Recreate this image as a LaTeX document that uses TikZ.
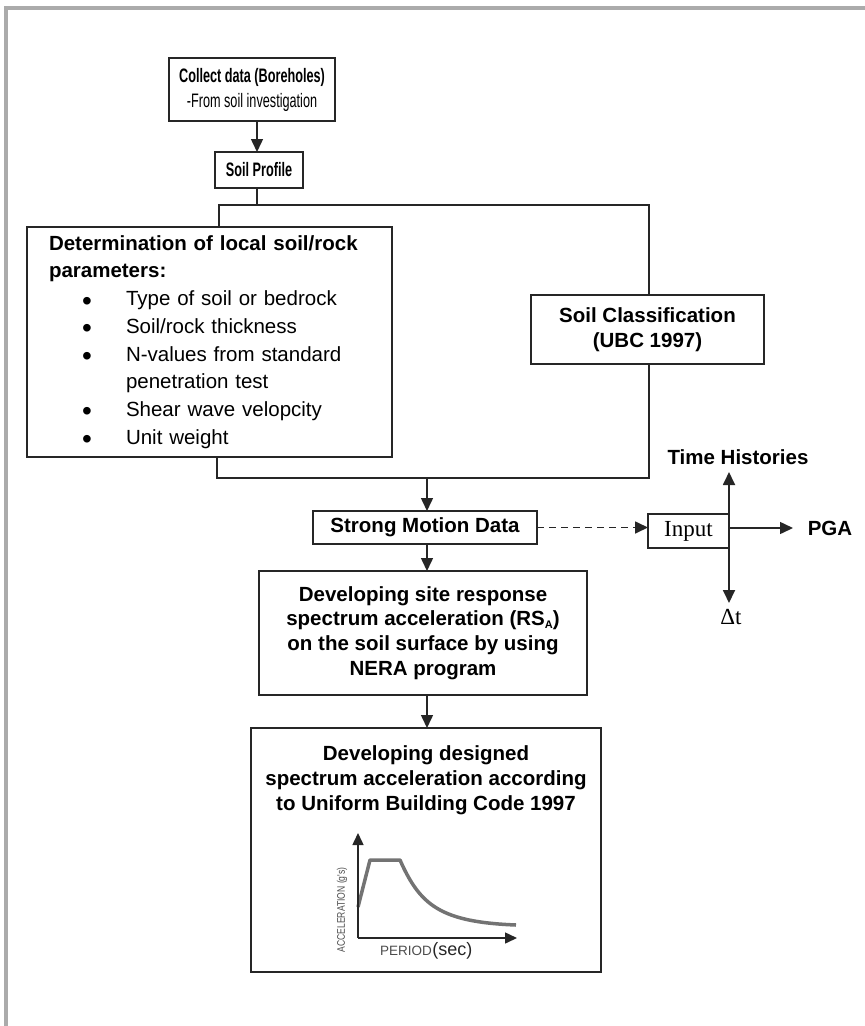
\documentclass[tikz,border=0pt]{standalone}
\usepackage{fontspec}
\setmainfont{Liberation Sans}
\newfontfamily\narrowfont[FakeStretch=0.65]{Liberation Sans}
\newfontfamily\condfont[FakeStretch=0.78]{Liberation Sans}
\newfontfamily\seriffont{Liberation Serif}
\usetikzlibrary{arrows.meta}
\newcommand{\bul}{\raisebox{-4.5pt}{\fontsize{28}{28}\selectfont •}}
\begin{document}
\begin{tikzpicture}[x=1pt,y=-1pt,
  box/.style={draw=black!85,line width=1.5pt,inner sep=0pt,outer sep=0pt},
  conn/.style={draw=black!85,line width=1.5pt},
  arr/.style={conn,-{Triangle[length=13pt,width=12pt]}},
  sarr/.style={conn,-{Triangle[length=12pt,width=11pt]}},
  dasharr/.style={arr,dash pattern=on 7pt off 5pt},
  bigbold/.style={font=\fontsize{20.5}{25}\selectfont\bfseries},
  narrowtxt/.style={font=\narrowfont\fontsize{19.5}{25}\selectfont}
]
\useasboundingbox (0,0) rectangle (865,1026);
% frame
\draw[color=black!33,line width=4pt] (865,8) -- (5.5,8) -- (5.5,1026);

% nodes
\node[box,narrowtxt,minimum width=166pt,minimum height=63pt,align=center] (collect) at (252,89.5)
  {\textbf{Collect data (Boreholes)}\\-From soil investigation};
\node[box,narrowtxt,minimum width=88pt,minimum height=36pt] (sp) at (259,170) {\textbf{Soil Profile}};
\node[box,minimum width=365pt,minimum height=230pt,text width=321pt,align=left,
  font=\fontsize{20.5}{27.7}\selectfont] (det) at (209.5,342)
  {\textbf{Determination of local soil/rock}\\
   \textbf{parameters:}\\
   \hspace*{33pt}\makebox[44pt][l]{\bul}Type of soil or bedrock\\
   \hspace*{33pt}\makebox[44pt][l]{\bul}Soil/rock thickness\\
   \hspace*{33pt}\makebox[44pt][l]{\bul}N-values from standard\\
   \hspace*{77pt}penetration test\\
   \hspace*{33pt}\makebox[44pt][l]{\bul}Shear wave velopcity\\
   \hspace*{33pt}\makebox[44pt][l]{\bul}Unit weight};
\node[box,bigbold,minimum width=233pt,minimum height=69pt,align=center] (cls) at (647.5,329.5)
  {Soil Classification\\(UBC 1997)};
\node[box,bigbold,minimum width=224pt,minimum height=33pt] (smd) at (425,527.5) {Strong Motion Data};
\node[box,minimum width=81pt,minimum height=34pt,font=\seriffont\fontsize{23}{23}\selectfont] (inp) at (688.5,531) {Input};
\node[bigbold,inner sep=0pt] (th) at (738,457) {Time Histories};
\node[bigbold,inner sep=0pt] (pga) at (830,528) {PGA};
\node[inner sep=0pt,font=\seriffont\fontsize{23}{23}\selectfont] (dt) at (731,617) {Δt};
\node[box,bigbold,minimum width=328pt,minimum height=124pt,align=center,
  font=\fontsize{20.5}{24.7}\selectfont\bfseries] (nera) at (423,633)
  {Developing site response\\
   spectrum acceleration (RS\raisebox{-3pt}{\fontsize{11}{11}\selectfont A})\\
   on the soil surface by using\\
   NERA program};
\node[box,minimum width=350pt,minimum height=244pt] (fin) at (426,850) {};
\node[bigbold,align=center,inner sep=0pt] (fint) at (426,780)
  {Developing designed\\spectrum acceleration according\\to Uniform Building Code 1997};

% connectors
\draw[arr] (collect.south -| 257,0) -- (sp.north -| 257,0);
\coordinate (ja) at (257,205);
\coordinate (jl) at (219,205);
\coordinate (jr) at (649,205);
\draw[conn] (sp.south -| ja) -- (ja);
\draw[conn] (det.north -| jl) -- (jl) -- (jr) -- (cls.north -| jr);
\coordinate (bl) at (217,478);
\coordinate (br) at (649,478);
\coordinate (bm) at (427,478);
\draw[conn] (det.south -| bl) -- (bl) -- (br) -- (cls.south -| br);
\draw[arr] (bm) -- (smd.north -| bm);
\draw[arr] (smd.south -| bm) -- (nera.north -| bm);
\draw[arr] (nera.south -| bm) -- (fin.north -| bm);
\draw[dasharr,line width=1.7pt] (smd.east) -- (inp.west |- smd.east);
\coordinate (thtip) at (729,472);
\coordinate (dttip) at (729,603);
\coordinate (pgatip) at (793,528);
\draw[arr,line width=1.8pt] (inp.east) -- (inp.east |- thtip);
\draw[arr,line width=1.8pt] (inp.east) -- (inp.east |- dttip);
\draw[arr] (inp.east |- pgatip) -- (pgatip);

% chart inside final box
\coordinate (o) at (358,938);
\coordinate (ytip) at (358,833);
\coordinate (xtip) at (517,938);
\draw[color=black!55,line width=3.5pt,line join=round]
  (358,907) -- (370,860) -- (400,860) .. controls (420,905) and (440,922) .. (516,925);
\draw[sarr] (o) -- (ytip);
\draw[sarr] (o) -- (xtip);
\node[rotate=90,inner sep=0pt,text=black!70,font=\condfont\fontsize{11}{11}\selectfont] (acc) at (342,910) {ACCELERATION (g's)};
\node[inner sep=0pt,anchor=base west,text=black!70,font=\fontsize{13.5}{14}\selectfont] (per) at (380,955) {PERIOD};
\node[inner sep=0pt,anchor=base west,text=black!85,font=\fontsize{18}{18}\selectfont] (sec) at (per.base east) {(sec)};
\end{tikzpicture}
\end{document}
